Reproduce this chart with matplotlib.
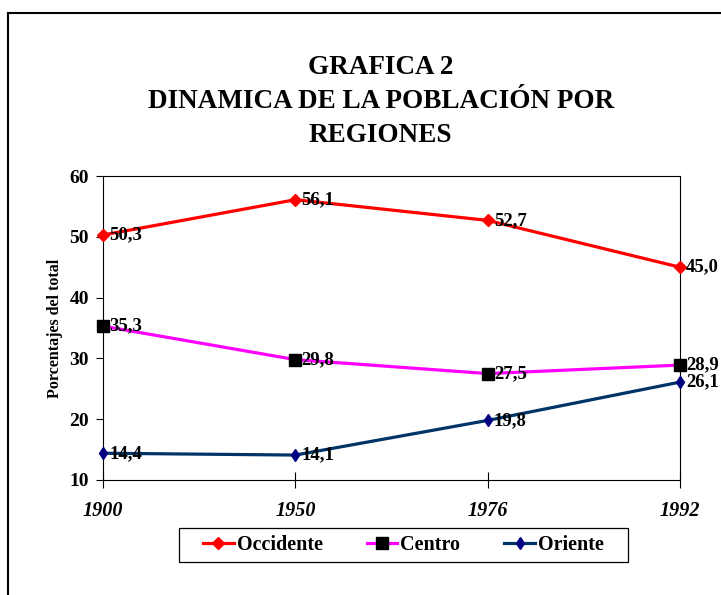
import matplotlib
matplotlib.use("Agg")
import matplotlib.pyplot as plt
from matplotlib.lines import Line2D
from matplotlib.patches import Rectangle

# data
years = ["1900", "1950", "1976", "1992"]
occidente = [50.3, 56.1, 52.7, 45.0]
centro = [35.3, 29.8, 27.5, 28.9]
oriente = [14.4, 14.1, 19.8, 26.1]

plt.rcParams['font.family'] = ['Liberation Serif', 'DejaVu Serif']
plt.rcParams['font.weight'] = 'bold'

fig = plt.figure(figsize=(7.21, 5.95), dpi=100)
ax = fig.add_axes([0.1429, 0.1933, 0.8002, 0.5109])

x = list(range(len(years)))

series = [
    ("Occidente", occidente, "#ff0000", "D", "#ff0000", 6.5),
    ("Centro", centro, "#ff00ff", "s", "#000000", 8),
    ("Oriente", oriente, "#003366", "d", "#000080", 6),
]

for name, vals, lc, mk, mc, ms in series:
    ax.plot(x, vals, color=lc, lw=2.3, marker=mk, markersize=ms,
            markerfacecolor=mc, markeredgecolor=mc, label=name,
            clip_on=False, zorder=3)
    for xi, v in zip(x, vals):
        ax.annotate(f"{v:.1f}".replace(".", ","), (xi, v), xytext=(4.5, 0),
                    textcoords="offset points", ha="left", va="center",
                    fontsize=13.5, fontweight="bold", zorder=4)

ax.set_xlim(0, 3)
ax.set_ylim(10, 60)
ax.set_yticks([10, 20, 30, 40, 50, 60])
ax.set_xticks(x)
ax.set_xticklabels(years, fontstyle="italic", fontsize=14.5)
ax.tick_params(axis="y", direction="out", length=5, width=0.8, labelsize=14, pad=5)
ax.tick_params(axis="x", direction="inout", length=12, width=0.8, pad=9)
for s in ax.spines.values():
    s.set_linewidth(0.8)
    s.set_color("black")

ax.set_ylabel("Porcentajes del total", fontsize=11.5, fontweight="bold", labelpad=5)

for txt, yy in [("GRAFICA 2", 0.886), ("DINAMICA DE LA POBLACIÓN POR", 0.829), ("REGIONES", 0.773)]:
    fig.text(0.528, yy, txt, ha="center", va="center", fontsize=19.5, fontweight="bold")

# legend entries without frame, frame drawn as a separate box
leg = fig.legend(loc="center", bbox_to_anchor=(0.5596, 0.0835), ncol=3, frameon=False,
                 fontsize=14.5, handlelength=1.5, columnspacing=2.2, handletextpad=0.15)
fig.add_artist(Rectangle((0.2483, 0.0555), 0.6227, 0.0571, transform=fig.transFigure,
                         fill=False, edgecolor="black", lw=0.9))

# outer chart border (left and top edges visible)
fig.add_artist(Line2D([0.0105, 0.0105], [0, 0.978], color="black", lw=1.5, transform=fig.transFigure))
fig.add_artist(Line2D([0.0105, 1.0], [0.978, 0.978], color="black", lw=1.5, transform=fig.transFigure))

fig.savefig("out.png", dpi=100)
